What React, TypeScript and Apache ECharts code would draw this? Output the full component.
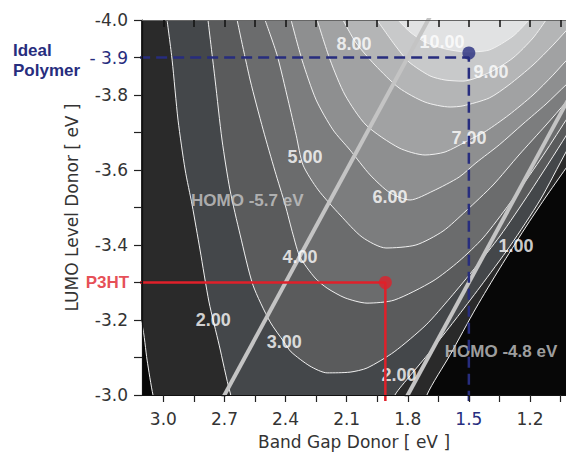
import React, { useEffect, useRef } from 'react';
import * as echarts from 'echarts';

// Contour lines of efficiency (%): [band gap (eV), LUMO (eV)]
const level1 = [[3.188,-3.307],[3.105,-3.187],[3.080,-3.093],[3.051,-3.000],[3.016,-2.933],[2.574,-2.827],[2.083,-2.827],[1.740,-2.920],[1.706,-3.000],[1.592,-3.107],[1.465,-3.232],[1.347,-3.339],[1.224,-3.445],[1.126,-3.525],[1.023,-3.605],[0.955,-3.659]];
const level2 = [[2.982,-4.000],[2.957,-3.893],[2.928,-3.733],[2.893,-3.600],[2.859,-3.507],[2.820,-3.387],[2.776,-3.248],[2.726,-3.133],[2.673,-3.008],[2.623,-2.933],[2.280,-2.853],[1.912,-2.933],[1.863,-3.000],[1.789,-3.051],[1.691,-3.115],[1.568,-3.200],[1.445,-3.288],[1.298,-3.397],[1.150,-3.520],[1.023,-3.648],[0.955,-3.712]];
const level3 = [[2.781,-4.000],[2.746,-3.840],[2.712,-3.680],[2.673,-3.547],[2.623,-3.427],[2.560,-3.293],[2.476,-3.195],[2.407,-3.141],[2.373,-3.115],[2.280,-3.077],[2.196,-3.059],[2.083,-3.061],[2.000,-3.072],[1.867,-3.115],[1.710,-3.187],[1.592,-3.259],[1.470,-3.339],[1.347,-3.424],[1.200,-3.541],[1.023,-3.691],[0.955,-3.755]];
const level4 = [[2.638,-4.000],[2.574,-3.840],[2.510,-3.707],[2.452,-3.597],[2.402,-3.507],[2.363,-3.427],[2.329,-3.368],[2.255,-3.312],[2.196,-3.285],[2.108,-3.259],[2.000,-3.245],[1.867,-3.253],[1.676,-3.304],[1.548,-3.357],[1.430,-3.419],[1.298,-3.512],[1.150,-3.627],[1.023,-3.733],[0.955,-3.792]];
const level5 = [[2.501,-4.000],[2.442,-3.907],[2.388,-3.787],[2.348,-3.693],[2.314,-3.613],[2.240,-3.547],[2.132,-3.480],[2.024,-3.421],[1.907,-3.392],[1.760,-3.400],[1.627,-3.437],[1.514,-3.491],[1.381,-3.560],[1.254,-3.640],[1.121,-3.720],[1.023,-3.781],[0.955,-3.824]];
const level6 = [[2.373,-4.000],[2.319,-3.893],[2.250,-3.787],[2.167,-3.707],[2.083,-3.653],[1.985,-3.587],[1.887,-3.539],[1.789,-3.520],[1.676,-3.544],[1.548,-3.581],[1.465,-3.619],[1.351,-3.667],[1.234,-3.723],[1.121,-3.776],[1.023,-3.827],[0.955,-3.861]];
const level7 = [[2.245,-4.000],[2.181,-3.893],[2.108,-3.800],[2.005,-3.720],[1.843,-3.659],[1.715,-3.640],[1.617,-3.648],[1.499,-3.680],[1.415,-3.704],[1.303,-3.747],[1.185,-3.800],[1.087,-3.853],[1.023,-3.891],[0.955,-3.928]];
const level8 = [[2.118,-4.000],[2.054,-3.939],[1.961,-3.880],[1.843,-3.819],[1.715,-3.781],[1.592,-3.768],[1.529,-3.771],[1.400,-3.792],[1.303,-3.827],[1.185,-3.880],[1.087,-3.933],[1.023,-3.971],[0.955,-4.011]];
const level9 = [[1.951,-4.000],[1.863,-3.933],[1.794,-3.888],[1.691,-3.851],[1.617,-3.840],[1.529,-3.837],[1.395,-3.861],[1.283,-3.899],[1.185,-3.952],[1.121,-4.000]];
const level10 = [[1.848,-4.000],[1.789,-3.968],[1.715,-3.941],[1.617,-3.923],[1.514,-3.915],[1.400,-3.920],[1.283,-3.957],[1.205,-4.000]];
const contourLevels = [level1, level2, level3, level4, level5, level6, level7, level8, level9, level10];

// Contour labels: text, band gap, LUMO
const contourLabelText = ['2.00', '3.00', '4.00', '5.00', '6.00', '7.00', '8.00', '9.00', '10.00', '1.00', '2.00'];
const contourLabelGap = [2.755, 2.407, 2.329, 2.305, 1.887, 1.499, 2.064, 1.391, 1.632, 1.269, 1.843];
const contourLabelLumo = [-3.200, -3.141, -3.368, -3.635, -3.528, -3.685, -3.936, -3.861, -3.941, -3.397, -3.053];

// HOMO lines (HOMO = LUMO - Eg)
const homoLevels = [-5.7, -4.8];
const homoLabelText = ['HOMO -5.7 eV', 'HOMO -4.8 eV'];
const homoLabelGap = [2.588, 1.342];
const homoLabelLumo = [-3.520, -3.115];

// Marked materials
const p3htPoint = [1.91, -3.3];
const idealPoint = [1.5, -3.912];
const idealLumo = -3.9;

// Axis ticks and labels
const xTickValues = [1.05, 1.2, 1.35, 1.5, 1.65, 1.8, 1.95, 2.1, 2.25, 2.4, 2.55, 2.7, 2.85, 3.0];
const xLabelValues = [1.2, 1.5, 1.8, 2.1, 2.4, 2.7, 3.0];
const yTickValues = [-4.0, -3.9, -3.8, -3.7, -3.6, -3.5, -3.4, -3.3, -3.2, -3.1, -3.0];
const yLabelValues = [-4.0, -3.9, -3.8, -3.6, -3.4, -3.2, -3.0];

const levelColors = ['#2a2a2a', '#44474a', '#5a5b5c', '#6b6c6d', '#7c7d7e', '#8e8f90', '#a1a2a3', '#b4b5b6', '#c8c9ca', '#e1e2e3'];
const FONT = '"Liberation Sans", Arial, Helvetica, sans-serif';
const AXFONT = '"DejaVu Sans", Verdana, sans-serif';
const NAVY = '#272d7e';
const RED = '#e0202a';

function buildOption() {
  const areaSeries = contourLevels.map((pts, i) => ({
    type: 'line',
    data: pts,
    symbol: 'none',
    showSymbol: false,
    smooth: 0.25,
    silent: true,
    z: 2,
    lineStyle: { color: '#f0f0f0', width: 1 },
    areaStyle: { color: levelColors[i], opacity: 1, origin: 'start' },
  }));

  const homoSeries = homoLevels.map((h) => ({
    type: 'line',
    data: [[-4.1 - h, -4.1], [-2.9 - h, -2.9]],
    symbol: 'none',
    silent: true,
    z: 3,
    lineStyle: { color: '#c4c4c4', width: 4 },
  }));

  const contourLabelSeries = {
    type: 'scatter',
    symbolSize: 0,
    silent: true,
    z: 5,
    data: contourLabelText.map((t, i) => ({ value: [contourLabelGap[i], contourLabelLumo[i]], name: t })),
    label: {
      show: true,
      position: 'inside',
      formatter: '{b}',
      color: '#ffffff',
      fontSize: 18,
      fontWeight: 'bold',
      fontFamily: FONT,
    },
  };

  const homoLabelSeries = {
    type: 'scatter',
    symbolSize: 0,
    silent: true,
    z: 5,
    data: homoLabelText.map((t, i) => ({ value: [homoLabelGap[i], homoLabelLumo[i]], name: t })),
    label: {
      show: true,
      position: 'inside',
      formatter: '{b}',
      color: '#c8c8c8',
      fontSize: 17,
      fontWeight: 'bold',
      fontFamily: FONT,
    },
  };

  const redLine = {
    type: 'line',
    clip: false,
    symbol: 'none',
    silent: true,
    z: 8,
    data: [[3.124, p3htPoint[1]], p3htPoint, [p3htPoint[0], -2.984]],
    lineStyle: { color: RED, width: 2.5 },
  };
  const blueLine = {
    type: 'line',
    clip: false,
    symbol: 'none',
    silent: true,
    z: 8,
    data: [[3.119, idealLumo], [idealPoint[0], idealLumo], [idealPoint[0], -2.984]],
    lineStyle: { color: NAVY, width: 2.5, type: [11, 6] },
  };
  const dots = {
    type: 'scatter',
    clip: false,
    silent: true,
    z: 9,
    symbolSize: 13,
    data: [
      { value: p3htPoint, itemStyle: { color: RED } },
      { value: idealPoint, itemStyle: { color: NAVY } },
    ],
  };
  const p3htLabel = {
    type: 'scatter',
    clip: false,
    silent: true,
    z: 9,
    symbolSize: 0,
    data: [{ value: [3.124, p3htPoint[1]], name: 'P3HT' }],
    label: {
      show: true,
      position: 'left',
      distance: 9,
      formatter: '{b}',
      color: RED,
      fontSize: 17,
      fontWeight: 'bold',
      fontFamily: FONT,
    },
  };

  const near = (a: number, b: number) => Math.abs(a - b) < 1e-6;

  return {
    animation: false,
    backgroundColor: '#ffffff',
    textStyle: { fontFamily: FONT },
    grid: {
      left: 142,
      right: 0,
      top: 20,
      bottom: 59,
      show: true,
      backgroundColor: '#070707',
      borderWidth: 0,
      containLabel: false,
      outerBoundsMode: 'none',
    },
    xAxis: [
      {
        type: 'value',
        position: 'bottom',
        inverse: true,
        min: 1.023,
        max: 3.105,
        z: 10,
        splitLine: { show: false },
        axisLine: { show: true, onZero: false, lineStyle: { color: '#111', width: 1.2 } },
        axisTick: { show: true, inside: false, length: 7, customValues: xTickValues, lineStyle: { color: '#222', width: 1.2 } },
        axisLabel: {
          customValues: xLabelValues,
          margin: 15,
          fontSize: 17,
          color: '#333',
          fontFamily: AXFONT,
          formatter: (v: number) => (near(v, 1.5) ? '{b|1.5}' : v.toFixed(1)),
          rich: { b: { color: NAVY, fontSize: 17, fontFamily: AXFONT } },
        },
        name: 'Band Gap Donor [ eV ]',
        nameLocation: 'middle',
        nameGap: 37,
        nameMoveOverlap: false,
        nameTextStyle: { fontSize: 17, lineHeight: 19, color: '#333', fontFamily: AXFONT, verticalAlign: 'top' },
      },
      {
        type: 'value',
        position: 'top',
        inverse: true,
        min: 1.023,
        max: 3.105,
        z: 10,
        splitLine: { show: false },
        axisLine: { show: true, onZero: false, lineStyle: { color: '#666', width: 1 } },
        axisTick: { show: true, inside: true, length: 7, customValues: xTickValues, lineStyle: { color: '#111', width: 1.5 } },
        axisLabel: { show: false },
      },
    ],
    yAxis: {
      type: 'value',
      inverse: true,
      min: -4,
      max: -3,
      z: 10,
      splitLine: { show: false },
      axisLine: { show: true, onZero: false, lineStyle: { color: '#111', width: 1.2 } },
      axisTick: { show: true, inside: false, length: 8, customValues: yTickValues, lineStyle: { color: '#222', width: 1.2 } },
      axisLabel: {
        customValues: yLabelValues,
        margin: 14,
        fontSize: 17,
        color: '#333',
        fontFamily: AXFONT,
        formatter: (v: number) => (near(v, -3.9) ? '{b|- 3.9}' : v.toFixed(1)),
        rich: { b: { color: NAVY, fontSize: 17, fontFamily: AXFONT } },
      },
      name: 'LUMO Level Donor [ eV ]',
      nameLocation: 'middle',
      nameRotate: 90,
      nameGap: 62,
      nameMoveOverlap: false,
      nameTextStyle: { fontSize: 17, color: '#333', fontFamily: AXFONT },
    },
    graphic: [
      {
        type: 'text',
        left: 13,
        top: 40,
        z: 20,
        style: {
          text: 'Ideal\nPolymer',
          fill: NAVY,
          fontSize: 17,
          fontWeight: 'bold',
          fontFamily: FONT,
          lineHeight: 20,
        },
      },
    ],
    series: [
      ...areaSeries,
      ...homoSeries,
      homoLabelSeries,
      contourLabelSeries,
      redLine,
      blueLine,
      dots,
      p3htLabel,
    ],
  };
}

export default function App() {
  const ref = useRef<HTMLDivElement>(null);
  useEffect(() => {
    if (!ref.current) return;
    const chart = echarts.init(ref.current, null, { renderer: 'svg' });
    chart.setOption(buildOption() as any);
    return () => chart.dispose();
  }, []);
  return (
    <div
      ref={ref}
      style={{ position: 'fixed', left: 0, top: 0, width: 566, height: 454, background: '#ffffff' }}
    />
  );
}
